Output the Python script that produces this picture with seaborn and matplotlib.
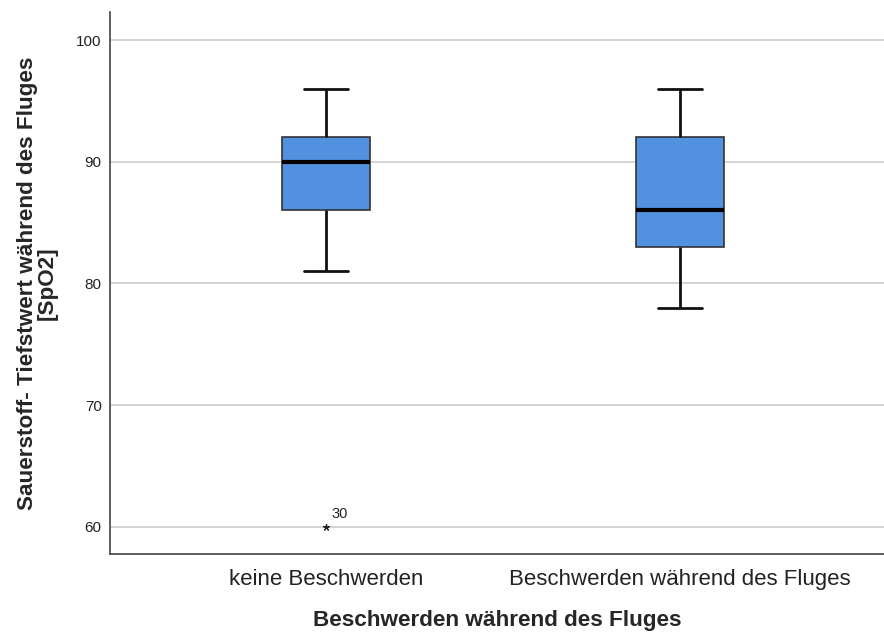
import matplotlib
matplotlib.use("Agg")
import matplotlib.pyplot as plt
import seaborn as sns
import pandas as pd

categories = ["keine Beschwerden", "Beschwerden während des Fluges"]
keine_values = [60, 81, 86, 88, 90, 91, 92, 94, 96]
beschwerden_values = [78, 83, 86, 92, 96]
outlier_label = "30"
yticks = [60, 70, 80, 90, 100]

df = pd.DataFrame({
    "gruppe": [categories[0]] * len(keine_values) + [categories[1]] * len(beschwerden_values),
    "wert": keine_values + beschwerden_values,
})

sns.set_style("white")
plt.rcParams['font.family'] = ['Liberation Sans', 'DejaVu Sans']

fig = plt.figure(figsize=(8.84, 6.33), dpi=100)
ax = fig.add_axes([110/884, 1 - 554/633, 1 - 110/884, (554 - 12)/633])

for y in yticks:
    ax.axhline(y, color="#cccccc", lw=1.2, zorder=0)

sns.boxplot(data=df, x="gruppe", y="wert", order=categories, ax=ax,
            color="#5290e0", saturation=1, width=0.25, whis=1.5,
            linecolor="#222222", linewidth=1.3,
            boxprops=dict(edgecolor="#333333", linewidth=1.2, zorder=2),
            whiskerprops=dict(color="#111111", linewidth=2),
            capprops=dict(color="#111111", linewidth=2),
            medianprops=dict(color="black", linewidth=3),
            flierprops=dict(marker=(5, 2, 0), markersize=5, markerfacecolor="black",
                            markeredgecolor="#222222", markeredgewidth=0.9),
            )

# outlier label
ax.annotate(outlier_label, xy=(0, keine_values[0]), xytext=(4, 4), textcoords="offset points",
            ha="left", va="bottom", fontsize=10.5, color="#222222")

ax.set_xlim(-0.61, 1.576)
ax.set_ylim(57.78, 102.3)
ax.set_yticks(yticks)
ax.set_yticklabels([str(v) for v in yticks], fontsize=11, color="#222222")
ax.tick_params(axis="y", length=0, pad=6)
ax.tick_params(axis="x", length=0, pad=11, labelsize=16, labelcolor="#222222")

ax.set_xlabel("Beschwerden während des Fluges", fontsize=16.2, fontweight="bold", labelpad=14)
ax.set_ylabel("Sauerstoff- Tiefstwert während des Fluges\n[SpO2]", fontsize=16.2,
              fontweight="bold", labelpad=13, linespacing=0.95)

for s in ["top", "right"]:
    ax.spines[s].set_visible(False)
for s in ["left", "bottom"]:
    ax.spines[s].set_color("#444444")
    ax.spines[s].set_linewidth(1.2)

fig.savefig("out.png", dpi=100)
